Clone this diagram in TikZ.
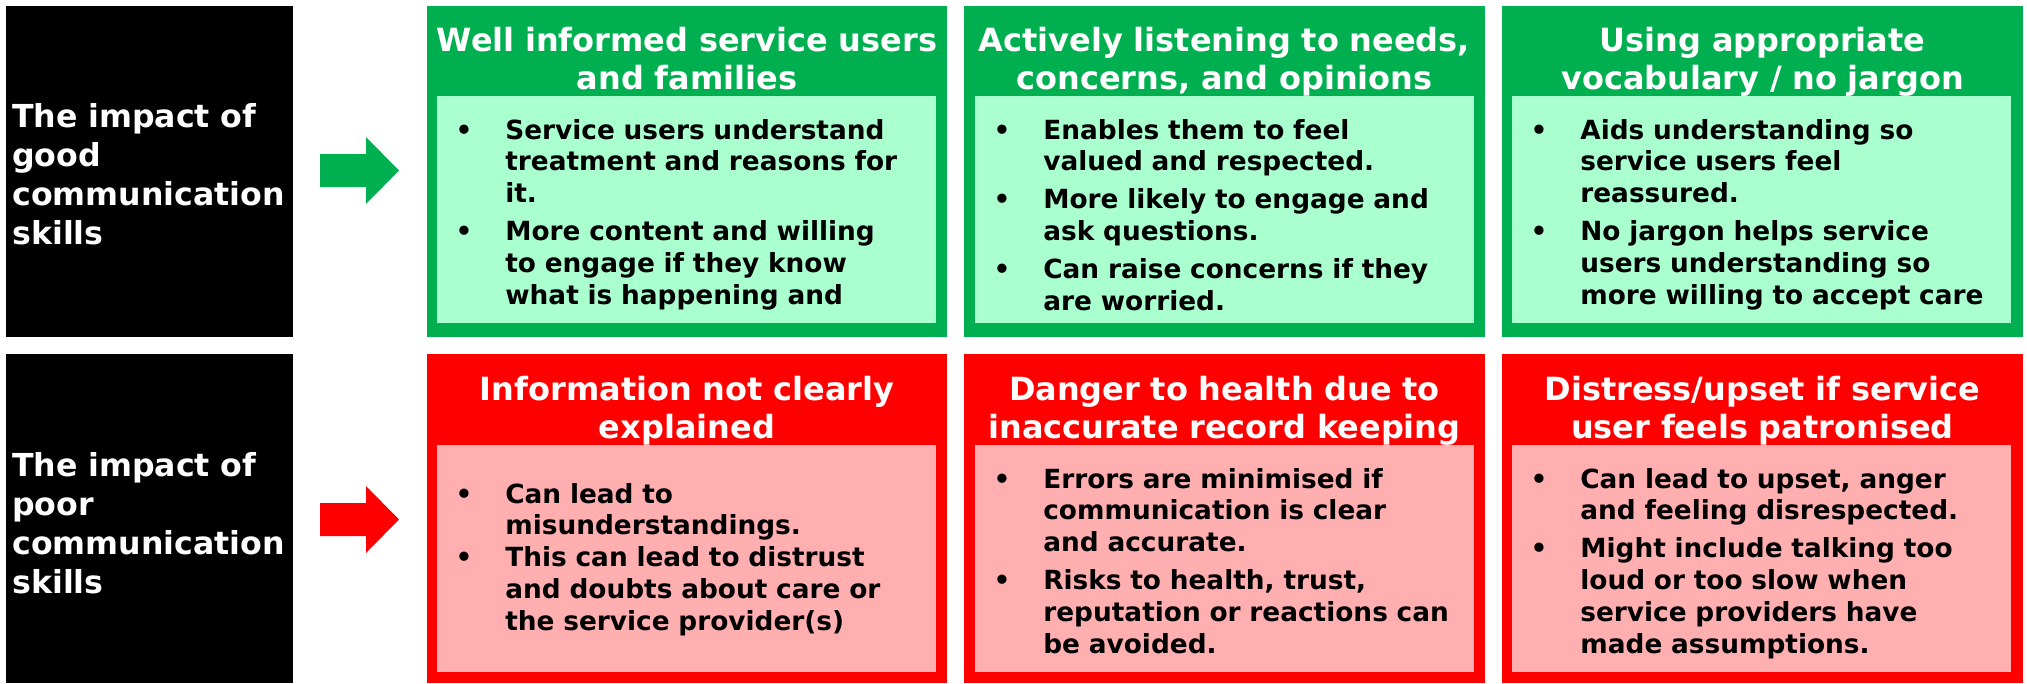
\documentclass[tikz,border=0pt]{standalone}
\usepackage{fontspec}
\setmainfont{DejaVu Sans}
\usepackage{xcolor}

\definecolor{goodgreen}{HTML}{00B050}
\definecolor{goodlight}{HTML}{A9FFCE}
\definecolor{poorred}{HTML}{FF0000}
\definecolor{poorlight}{HTML}{FFAFAF}

% bullet with hanging indent, and the next bullet after a small gap
% (lines inside a bullet are broken with \newline so the indent holds,
% and each text ends with \par before the node closes)
\newcommand{\bull}{\hangindent=13.6mm\hangafter=1\makebox[13.6mm][l]{\hspace{3.65mm}\textbullet}}
\newcommand{\nextbull}[1][1.2mm]{\par\vspace{#1}\leavevmode\bull\ignorespaces}

\begin{document}
\begin{tikzpicture}[x=0.2mm, y=-0.2mm,
  side/.style={text=white, font=\bfseries\fontsize{18}{22.2}\selectfont, text width=56mm, align=left, inner sep=0pt, anchor=base west},
  head/.style={text=white, font=\bfseries\fontsize{18.2}{21.9}\selectfont, text width=104mm, align=center, inner sep=0pt, anchor=base},
  body/.style={font=\bfseries\fontsize{15}{18.2}\selectfont, text width=99.8mm, align=left, inner sep=0pt, anchor=base west}]
\useasboundingbox (0,0) rectangle (2027,683);

% row labels
\fill[black] (6,6) rectangle (293,337);
\node[side] (good) at (12,127) {The impact of\\good\\communication\\skills};
\fill[black] (6,354) rectangle (293,683);
\node[side] (poor) at (12,476) {The impact of\\poor\\communication\\skills};

% block arrows
\fill[goodgreen] (320,154) -- (366,154) -- (366,137) -- (399,170.5) -- (366,204) -- (366,187) -- (320,187) -- cycle;
\fill[poorred] (320,503) -- (366,503) -- (366,486) -- (399,519.5) -- (366,553) -- (366,536) -- (320,536) -- cycle;

% good 1
\fill[goodgreen] (427,6) rectangle (947,337);
\fill[goodlight] (437,96) rectangle (936,323);
\node[head] (good1) at (687,51) {Well informed service users\\and families};
\node[body] (good1txt) at (437,139) {\bull Service users understand\newline treatment and reasons for\newline it.\nextbull More content and willing\newline to engage if they know\newline what is happening and\par};

% good 2
\fill[goodgreen] (964,6) rectangle (1485,337);
\fill[goodlight] (975,96) rectangle (1474,323);
\node[head] (good2) at (1224.5,51) {Actively listening to needs,\\concerns, and opinions};
\node[body] (good2txt) at (975,139) {\bull Enables them to feel\newline valued and respected.\nextbull More likely to engage and\newline ask questions.\nextbull Can raise concerns if they\newline are worried.\par};

% good 3
\fill[goodgreen] (1502,6) rectangle (2023,337);
\fill[goodlight] (1512,96) rectangle (2011,323);
\node[head] (good3) at (1762.5,51) {Using appropriate\\vocabulary / no jargon};
\node[body] (good3txt) at (1512,139) {\bull Aids understanding so\newline service users feel\newline reassured.\nextbull No jargon helps service\newline users understanding so\newline more willing to accept care\par};

% poor 1
\fill[poorred] (427,354) rectangle (947,683);
\fill[poorlight] (437,445) rectangle (936,672);
\node[head] (poor1) at (687,400) {Information not clearly\\explained};
\node[body] (poor1txt) at (437,503) {\bull Can lead to\newline misunderstandings.\nextbull[0mm] This can lead to distrust\newline and doubts about care or\newline the service provider(s)\par};

% poor 2
\fill[poorred] (964,354) rectangle (1485,683);
\fill[poorlight] (975,445) rectangle (1474,672);
\node[head] (poor2) at (1224.5,400) {Danger to health due to\\inaccurate record keeping};
\node[body] (poor2txt) at (975,488) {\bull Errors are minimised if\newline communication is clear\newline and accurate.\nextbull Risks to health, trust,\newline reputation or reactions can\newline be avoided.\par};

% poor 3
\fill[poorred] (1502,354) rectangle (2023,683);
\fill[poorlight] (1512,445) rectangle (2011,672);
\node[head] (poor3) at (1762.5,400) {Distress/upset if service\\user feels patronised};
\node[body] (poor3txt) at (1512,488) {\bull Can lead to upset, anger\newline and feeling disrespected.\nextbull Might include talking too\newline loud or too slow when\newline service providers have\newline made assumptions.\par};
\end{tikzpicture}
\end{document}
